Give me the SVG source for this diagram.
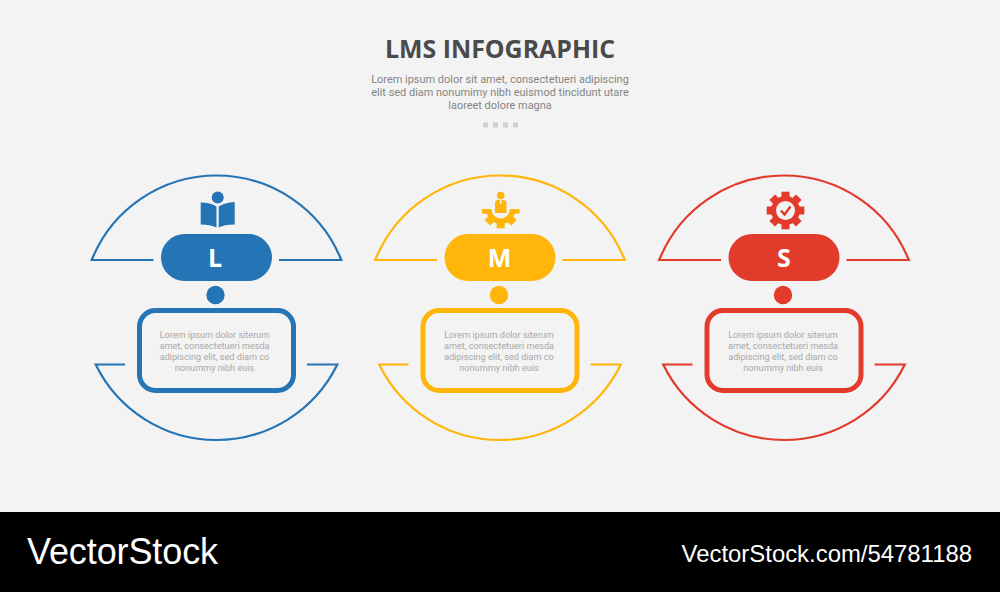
<svg xmlns="http://www.w3.org/2000/svg" width="1000" height="592" viewBox="0 0 1000 592">
<style>
.line{fill:none;stroke:currentColor;stroke-width:2.2;stroke-linejoin:miter}
.box{fill:none;stroke:currentColor;stroke-width:5}
.fill{fill:currentColor}
.blue{color:#2574b5}
.amber{color:#ffb50a}
.red{color:#e23b2c}
.letter{font:700 25px "Open Sans",sans-serif;fill:#fff;text-anchor:middle}
.body{font:9.15px Roboto,sans-serif;fill:#a8a8a8;text-anchor:middle}
.sub{font:10.95px Roboto,sans-serif;fill:#858585;text-anchor:middle}
.bg{fill:#f3f3f3}
</style>
<defs>
<g id="gear">
<circle r="14.500"/>
<rect x="-4" y="-18.800" width="8" height="37.600"/><rect x="-4" y="-18.800" width="8" height="37.600" transform="rotate(45)"/><rect x="-4" y="-18.800" width="8" height="37.600" transform="rotate(90)"/><rect x="-4" y="-18.800" width="8" height="37.600" transform="rotate(135)"/>
</g>
<clipPath id="lower"><rect x="-25" y="0" width="50" height="25"/></clipPath>
<g id="shell">
<path class="line" d="M-63 260H-124.800A134.400 134.400 0 0 1 124.800 260H62.500"/>
<path class="line" d="M-91.500 364.500H-120.800A134.400 134.400 0 0 0 120.800 364.500H90.500"/>
<rect class="fill" x="-55.500" y="234" width="111" height="47" rx="23.500"/>
<circle class="fill" cx="-1" cy="295" r="9.200"/>
<rect class="box" x="-77" y="310.500" width="154" height="80" rx="16"/>
</g>
</defs>
<rect width="1000" height="592" fill="#f3f3f3"/>
<rect y="512" width="1000" height="80" fill="#000"/>
<g id="header">
<text x="500" y="58" text-anchor="middle" style="font:700 24.900px 'Open Sans',sans-serif;fill:#4a4a4a">LMS INFOGRAPHIC</text>
<text class="sub" x="500" y="82.500">Lorem ipsum dolor sit amet, consectetueri adipiscing</text>
<text class="sub" x="500" y="95.500">elit sed diam nonumimy nibh euismod tincidunt utare</text>
<text class="sub" x="500" y="109">laoreet dolore magna</text>
<g fill="#cfcfcf"><rect x="483" y="122.500" width="5" height="5"/><rect x="493" y="122.500" width="5" height="5"/><rect x="503" y="122.500" width="5" height="5"/><rect x="513" y="122.500" width="5" height="5"/></g>
</g>
<g id="connectors"></g>
<g id="node-l" class="blue" transform="translate(216.500,0)">
<use href="#shell"/>
<g class="fill">
<circle cx="1.200" cy="197.500" r="6"/>
<path d="M-15.800 202.500Q-6 202.500 0 206.500V227.500Q-6 224.500 -15.800 224.500Z"/>
<path d="M2.200 206.500Q8 202.500 18.200 202V224.500Q8 224.500 2.200 227.500Z"/>
</g>
<text class="letter" x="-1.500" y="267">L</text>
<text class="body"><tspan x="-2" y="338">Lorem ipsum dolor siterum</tspan><tspan x="-2" y="349">amet, consectetueri mesda</tspan><tspan x="-2" y="360">adipiscing elit, sed diam co</tspan><tspan x="-2" y="371">nonummy nibh euis</tspan></text>
</g>
<g id="node-m" class="amber" transform="translate(500,0)">
<use href="#shell"/>
<g class="fill" transform="translate(.7,209.500)"><use href="#gear" clip-path="url(#lower)"/></g>
<rect class="fill" x="-18" y="209" width="37.400" height="4.500" rx="1"/>
<circle class="bg" cx=".7" cy="209.500" r="9"/>
<rect class="bg" x="-9" y="205" width="19.400" height="4.500"/>
<circle class="fill" cx=".7" cy="195.500" r="3.800"/>
<path class="fill" d="M-5 213V203Q-5 200 -2 200H3.500Q6.500 200 6.500 203V213Z"/>
<rect class="bg" x="0" y="200" width="1.400" height="4"/>
<text class="letter" x="-.5" y="267">M</text>
<text class="body"><tspan x="-1" y="338">Lorem ipsum dolor siterum</tspan><tspan x="-1" y="349">amet, consectetueri mesda</tspan><tspan x="-1" y="360">adipiscing elit, sed diam co</tspan><tspan x="-1" y="371">nonummy nibh euis</tspan></text>
</g>
<g id="node-s" class="red" transform="translate(784,0)">
<use href="#shell"/>
<g class="fill" transform="translate(1.500,210.500)"><use href="#gear"/></g>
<circle class="bg" cx="1.500" cy="210.500" r="9.500"/>
<path d="M-3 210.500L.5 214.500L6.500 206.500" fill="none" stroke="#e23b2c" stroke-width="2.400"/>
<text class="letter" x="0" y="267">S</text>
<text class="body"><tspan x="-1" y="338">Lorem ipsum dolor siterum</tspan><tspan x="-1" y="349">amet, consectetueri mesda</tspan><tspan x="-1" y="360">adipiscing elit, sed diam co</tspan><tspan x="-1" y="371">nonummy nibh euis</tspan></text>
</g>
<g id="footer" fill="#fff" style="font-family:'Liberation Sans',sans-serif">
<text x="27" y="563.500" font-size="36" letter-spacing="-.1">VectorStock</text>
<text x="972" y="562" font-size="23.900" text-anchor="end">VectorStock.com/54781188</text>
</g>
</svg>
